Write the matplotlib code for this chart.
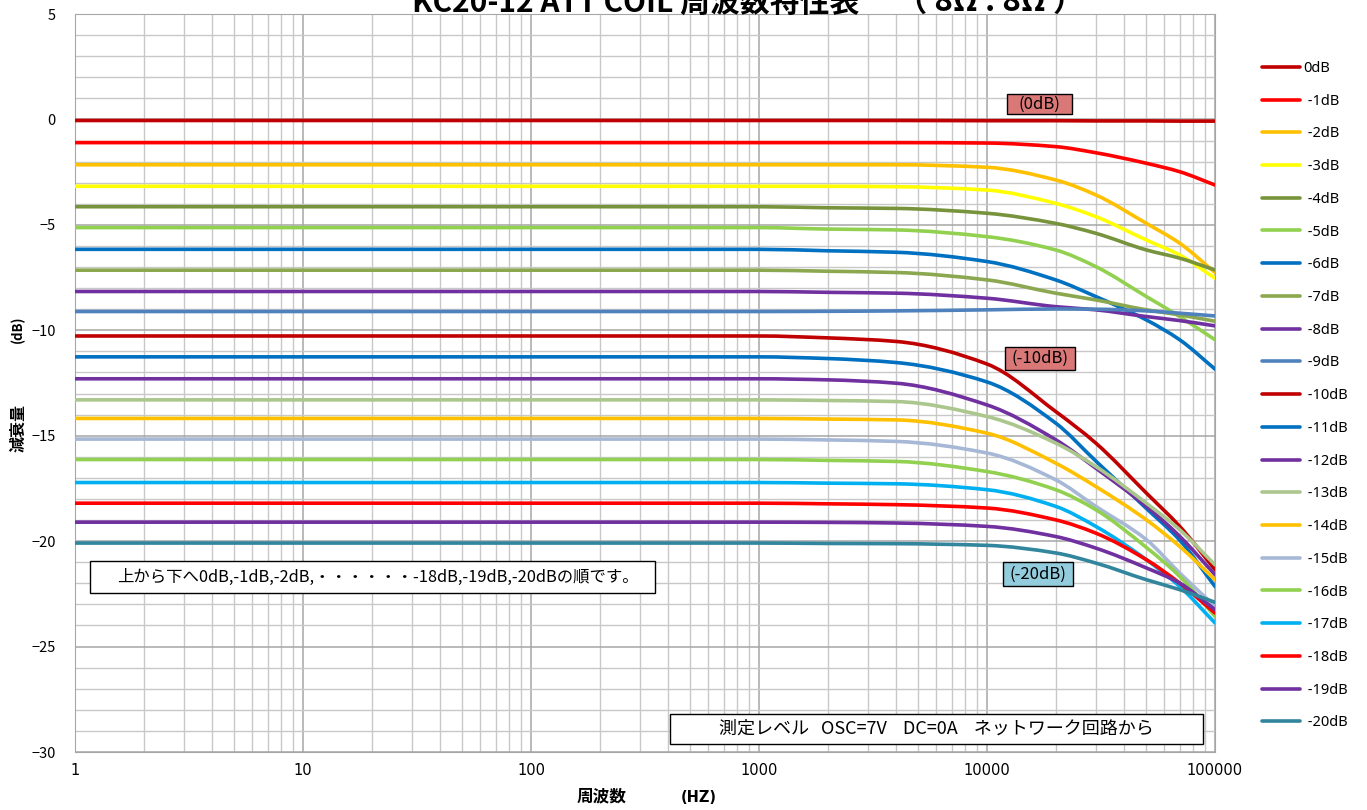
import numpy as np
import matplotlib
matplotlib.use("Agg")
import matplotlib.pyplot as plt
from matplotlib.ticker import MultipleLocator, LogLocator, FixedLocator, FixedFormatter
from matplotlib.patches import Rectangle, PathPatch
from matplotlib.path import Path
from matplotlib.lines import Line2D

plt.rcParams['font.family'] = ['Noto Sans CJK JP', 'DejaVu Sans']

# measurement frequencies (Hz)
freq = [1, 10, 100, 1000, 2000, 4000, 10000, 20000, 30000, 50000, 70000, 100000]

# attenuation per tap (dB)
att_0 = [-0.05, -0.05, -0.05, -0.05, -0.05, -0.05, -0.06, -0.06, -0.07, -0.07, -0.08, -0.08]
att_1 = [-1.1, -1.1, -1.1, -1.1, -1.1, -1.1, -1.12, -1.29, -1.58, -2.08, -2.48, -3.11]
att_2 = [-2.15, -2.15, -2.15, -2.15, -2.15, -2.15, -2.27, -2.87, -3.58, -4.93, -5.87, -7.26]
att_3 = [-3.17, -3.17, -3.17, -3.17, -3.17, -3.19, -3.35, -3.98, -4.61, -5.72, -6.43, -7.53]
att_4 = [-4.14, -4.14, -4.14, -4.14, -4.19, -4.22, -4.45, -4.93, -5.40, -6.19, -6.58, -7.14]
att_5 = [-5.13, -5.13, -5.13, -5.13, -5.2, -5.24, -5.56, -6.19, -6.98, -8.40, -9.35, -10.45]
att_6 = [-6.16, -6.16, -6.16, -6.16, -6.23, -6.30, -6.74, -7.61, -8.40, -9.51, -10.45, -11.84]
att_7 = [-7.15, -7.15, -7.15, -7.15, -7.2, -7.26, -7.61, -8.24, -8.56, -9.03, -9.27, -9.57]
att_8 = [-8.16, -8.16, -8.16, -8.16, -8.2, -8.24, -8.48, -8.88, -9.03, -9.35, -9.54, -9.79]
att_9 = [-9.11, -9.11, -9.11, -9.11, -9.1, -9.08, -9.03, -8.99, -9.0, -9.08, -9.19, -9.32]
att_10 = [-10.27, -10.27, -10.27, -10.27, -10.36, -10.53, -11.6, -13.85, -15.35, -17.72, -19.3, -21.35]
att_11 = [-11.26, -11.26, -11.26, -11.26, -11.34, -11.53, -12.45, -14.40, -16.2, -18.45, -19.95, -22.15]
att_12 = [-12.3, -12.3, -12.3, -12.3, -12.35, -12.51, -13.54, -15.19, -16.54, -18.35, -19.77, -21.59]
att_13 = [-13.3, -13.3, -13.3, -13.3, -13.33, -13.38, -14.09, -15.35, -16.46, -18.2, -19.46, -21.12]
att_14 = [-14.18, -14.18, -14.18, -14.18, -14.21, -14.25, -14.88, -16.3, -17.41, -18.99, -20.25, -21.83]
att_15 = [-15.16, -15.16, -15.16, -15.16, -15.2, -15.27, -15.82, -17.09, -18.35, -19.93, -21.51, -23.09]
att_16 = [-16.13, -16.13, -16.13, -16.13, -16.17, -16.22, -16.7, -17.56, -18.51, -20.3, -21.67, -23.57]
att_17 = [-17.22, -17.22, -17.22, -17.22, -17.25, -17.28, -17.56, -18.35, -19.3, -20.88, -22.15, -23.88]
att_18 = [-18.2, -18.2, -18.2, -18.2, -18.23, -18.27, -18.43, -18.99, -19.62, -20.88, -21.99, -23.41]
att_19 = [-19.1, -19.1, -19.1, -19.1, -19.11, -19.14, -19.3, -19.78, -20.33, -21.27, -21.99, -23.25]
att_20 = [-20.09, -20.09, -20.09, -20.09, -20.11, -20.12, -20.2, -20.56, -21.04, -21.83, -22.3, -22.9]

series = [att_0, att_1, att_2, att_3, att_4, att_5, att_6, att_7, att_8, att_9, att_10,
          att_11, att_12, att_13, att_14, att_15, att_16, att_17, att_18, att_19, att_20]
labels = ["0dB"] + [f" -{i}dB" for i in range(1, 21)]
colors = ["#C00000", "#FF0000", "#FFC000", "#FFFF00", "#77933C", "#92D050", "#0070C0",
          "#8BA750", "#7030A0", "#4F81BD", "#C00000", "#0070C0", "#7030A0", "#ABC78D",
          "#FFC000", "#A6B8D6", "#92D050", "#00B0F0", "#FF0000", "#7030A0", "#31859C"]

xticks = [1, 10, 100, 1000, 10000, 100000]
xtick_labels = ["1", "10", "100", "1000", "10000", "100000"]


def smooth_path(xs, ys):
    # smoothed line through the points: monotone cubic Hermite in log-x, as Bezier segments
    u = np.log10(np.asarray(xs, float))
    v = np.asarray(ys, float)
    h = np.diff(u)
    d = np.diff(v) / h
    m = np.empty_like(v)
    m[0], m[-1] = d[0], d[-1]
    for i in range(1, len(v) - 1):
        if d[i - 1] * d[i] <= 0:
            m[i] = 0.0
        else:
            w1, w2 = 2 * h[i] + h[i - 1], h[i] + 2 * h[i - 1]
            m[i] = (w1 + w2) / (w1 / d[i - 1] + w2 / d[i])
    verts, codes = [(u[0], v[0])], [Path.MOVETO]
    for i in range(len(v) - 1):
        t = h[i] / 3
        verts += [(u[i] + t, v[i] + m[i] * t), (u[i + 1] - t, v[i + 1] - m[i + 1] * t),
                  (u[i + 1], v[i + 1])]
        codes += [Path.CURVE4] * 3
    verts = np.array(verts)
    verts[:, 0] = 10 ** verts[:, 0]
    return Path(verts, codes)


W, H = 1367, 810
fig = plt.figure(figsize=(W / 100, H / 100), dpi=100)
ax = fig.add_axes([75 / W, 1 - 752 / H, 1140 / W, 738 / H])
ax.set_xscale("log")

handles = []
for ys, c, lab in zip(series, colors, labels):
    ax.add_patch(PathPatch(smooth_path(freq, ys), facecolor="none", edgecolor=c, lw=2.6,
                           capstyle="round", zorder=3))
    handles.append(Line2D([], [], color=c, lw=2.6, solid_capstyle="round", label=lab))

ax.set_xlim(1, 100000)
ax.set_ylim(-30, 5)
ax.yaxis.set_major_locator(MultipleLocator(5))
ax.yaxis.set_minor_locator(MultipleLocator(1))
ax.xaxis.set_major_locator(FixedLocator(xticks))
ax.xaxis.set_major_formatter(FixedFormatter(xtick_labels))
ax.xaxis.set_minor_locator(LogLocator(base=10, subs=np.arange(2, 10)))
ax.xaxis.set_minor_formatter(plt.NullFormatter())
ax.grid(which="major", color="#A6A6A6", lw=1.1, zorder=0)
ax.grid(which="minor", color="#C8C8C8", lw=1.0, zorder=0)
ax.tick_params(which="both", length=0)
ax.tick_params(axis="y", pad=14, labelsize=10.5)
ax.tick_params(axis="x", pad=8, labelsize=10.5)
for lab in ax.get_xticklabels():
    lab.set_family(["Liberation Sans Narrow", "DejaVu Sans"])
for s in ax.spines.values():
    s.set_color("#A6A6A6")

# axis titles
fig.text(577 / W, 1 - 796 / H, "周波数", fontsize=12, fontweight="bold", ha="left", va="center")
fig.text(681 / W, 1 - 798 / H, "(HZ)", fontsize=10.5, fontweight="bold", ha="left", va="center",
         family=["Liberation Sans Narrow", "DejaVu Sans"])
fig.text(18 / W, 1 - 428 / H, "減衰量", fontsize=11.5, fontweight="bold", rotation=90,
         ha="center", va="center")
fig.text(18 / W, 1 - 329 / H, "(dB)", fontsize=9.5, fontweight="bold", rotation=90,
         ha="center", va="center")

# title, running off the top edge
fig.text(636 / W, 1 - 12 / H, "KC20-12 ATT COIL 周波数特性表", fontsize=21.5, fontweight="bold",
         ha="center", va="baseline")
fig.text(990 / W, 1 - 12 / H, "（ 8Ω : 8Ω ）", fontsize=22.5, fontweight="bold",
         ha="center", va="baseline")

# tag boxes on the curves
tags = [("(0dB)", 1007, 94, 65, 20, "#DA7878"),
        ("(-10dB)", 1005, 347, 70, 23, "#DA7878"),
        ("(-20dB)", 1003, 562, 70, 24, "#93CDDD")]
for txt, x0, y0, w, h, fc in tags:
    fig.patches.append(Rectangle((x0 / W, 1 - (y0 + h) / H), w / W, h / H, transform=fig.transFigure,
                                 facecolor=fc, edgecolor="black", lw=1.0, zorder=5))
    fig.text((x0 + w / 2) / W, 1 - (y0 + h / 2) / H, txt, fontsize=12, ha="center", va="center",
             zorder=6)

# note boxes
notes = [("上から下へ0dB,-1dB,-2dB,・・・・・・-18dB,-19dB,-20dBの順です。", 90, 561, 565, 32, 11.8, 378),
         ("測定レベル   OSC=7V    DC=0A    ネットワーク回路から", 670, 714, 533, 30, 13, 936)]
for txt, x0, y0, w, h, fs, xc in notes:
    fig.patches.append(Rectangle((x0 / W, 1 - (y0 + h) / H), w / W, h / H, transform=fig.transFigure,
                                 facecolor="white", edgecolor="black", lw=1.0, zorder=5))
    fig.text(xc / W, 1 - (y0 + h / 2) / H, txt, fontsize=fs, ha="center", va="center", zorder=6)

leg = ax.legend(handles=handles, loc="upper left", bbox_to_anchor=(1262 / W, 1 - 61 / H),
                bbox_transform=fig.transFigure, frameon=False, fontsize=10.5, handlelength=2.6,
                handletextpad=0.25, labelspacing=1.215, borderpad=0, borderaxespad=0)
for t in leg.get_texts():
    t.set_family(["Noto Sans", "DejaVu Sans"])

fig.savefig("out.png", dpi=100)
